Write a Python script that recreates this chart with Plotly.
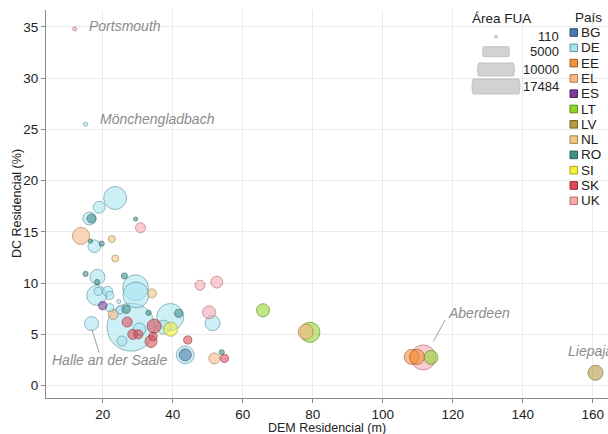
import math
import plotly.graph_objects as go

# ---------------- data ----------------
countries = ["BG", "DE", "EE", "EL", "ES", "LT", "LV", "NL", "RO", "SI", "SK", "UK"]
fill_colors = {
    "BG": "#4a78ad", "DE": "#a8e4f0", "EE": "#f58f3a", "EL": "#f9b784",
    "ES": "#7a3d9e", "LT": "#93d62a", "LV": "#b39a3e", "NL": "#ecc77c",
    "RO": "#3e8f87", "SI": "#f4f23a", "SK": "#dc4a57", "UK": "#f6a6ae",
}
line_colors = {
    "BG": "#2f4f78", "DE": "#5f9aa6", "EE": "#a85a1c", "EL": "#b07c52",
    "ES": "#4a2064", "LT": "#5c8c14", "LV": "#76652a", "NL": "#a98b4e",
    "RO": "#2a5f5a", "SI": "#a8a520", "SK": "#982c36", "UK": "#b47078",
}

fua_country = [
    "UK", "DE",
    "DE", "DE", "DE", "DE", "DE", "DE", "DE", "DE", "DE", "DE", "DE", "DE",
    "DE", "DE", "DE", "DE", "DE", "DE", "DE", "DE", "DE", "DE",
    "RO", "RO", "RO", "RO", "RO", "RO", "RO", "RO", "RO", "RO", "RO",
    "UK", "UK", "UK", "UK", "UK",
    "EL", "EL", "EL", "EL",
    "NL", "NL", "NL",
    "ES",
    "SK", "SK", "SK", "SK", "SK", "SK", "SK", "SK",
    "SI", "BG",
    "LT", "LT", "LT",
    "EE", "EE",
    "LV",
]
dem_residencial = [
    12.0, 15.1,
    23.55, 19.0, 16.2, 17.6, 18.5, 29.4, 29.5, 18.3, 18.7, 21.4, 22.0, 24.6,
    22.0, 25.0, 16.8, 28.1, 39.3, 25.5, 37.4, 43.6, 51.4, 30.5,
    16.8, 29.4, 16.5, 19.7, 15.1, 18.4, 26.2, 26.7, 33.1, 41.7, 54.0,
    30.8, 47.8, 52.6, 50.4, 111.6,
    13.8, 23.0, 51.9, 78.0,
    22.6, 23.6, 34.1,
    20.0,
    27.0, 28.6, 30.2, 34.7, 33.8, 34.4, 44.3, 54.8,
    39.4, 43.6,
    65.8, 79.2, 113.8,
    108.3, 109.8,
    160.8,
]
dc_residencial = [
    34.8, 25.5,
    18.3, 17.4, 16.3, 13.6, 10.6, 9.55, 8.85, 8.8, 9.2, 9.2, 8.8, 8.2,
    7.6, 7.4, 6.05, 5.7, 6.7, 4.35, 5.7, 3.0, 6.1, 5.5,
    16.3, 16.25, 14.1, 13.85, 10.9, 10.1, 10.7, 7.45, 7.1, 7.05, 3.25,
    15.4, 9.8, 10.1, 7.15, 2.75,
    14.6, 6.95, 2.65, 5.25,
    14.3, 12.4, 9.0,
    7.8,
    6.2, 5.0, 5.0, 5.8, 4.3, 4.8, 4.45, 2.65,
    5.5, 3.0,
    7.35, 5.2, 2.75,
    2.8, 2.8,
    1.25,
]
area_fua = [
    120, 120,
    3500, 800, 970, 900, 1350, 4600, 4600, 2600, 330, 530, 330, 120,
    330, 330, 1150, 17484, 5000, 530, 1150, 2000, 1350, 900,
    420, 120, 120, 150, 150, 150, 190, 330, 150, 330, 150,
    530, 530, 800, 970, 4300,
    1800, 530, 660, 1350,
    250, 250, 420,
    330,
    530, 530, 420, 1150, 800, 330, 330, 330,
    1150, 800,
    970, 2600, 1150,
    1350, 1350,
    1350,
]

size_breaks = [110, 5000, 10000, 17484]
city_names = ["Portsmouth", "Mönchengladbach", "Halle an der Saale", "Aberdeen", "Liepaja"]
# label text anchor (left, middle) in data units
city_label_x = [15.5, 18.7, 4.9, 118.0, 152.3]
city_label_y = [35.1, 26.0, 2.5, 7.1, 3.4]

# ---------------- geometry helpers ----------------
W, H = 608, 434
ML, MR, MT, MB = 46, 0, 10, 36
PW, PH = W - ML - MR, H - MT - MB
AMIN, AMAX = 110, 17484
DMIN, DMAX = 3.0, 48.0
FONT = "Liberation Sans, Arial, sans-serif"


def diam(a):
    return DMIN + (DMAX - DMIN) * math.sqrt(max(a - AMIN, 0) / (AMAX - AMIN))


def pxx(X):  # pixel -> paper x
    return (X - ML) / PW


def pxy(Y):  # pixel -> paper y
    return 1 - (Y - MT) / PH


def rgba(hexc, a):
    h = hexc.lstrip("#")
    return "rgba(%d,%d,%d,%.2f)" % (int(h[0:2], 16), int(h[2:4], 16), int(h[4:6], 16), a)


# draw larger bubbles first so small ones stay visible
order = sorted(range(len(area_fua)), key=lambda i: -area_fua[i])

fig = go.Figure()
fig.add_trace(go.Scatter(
    x=[dem_residencial[i] for i in order],
    y=[dc_residencial[i] for i in order],
    mode="markers",
    marker=dict(
        size=[diam(area_fua[i]) for i in order],
        sizemode="diameter",
        color=[rgba(fill_colors[fua_country[i]], 0.82) for i in order],
        line=dict(color=[line_colors[fua_country[i]] for i in order], width=1),
    ),
    text=[fua_country[i] for i in order],
    showlegend=False,
    hoverinfo="x+y+text",
))

# ---------------- city labels ----------------
label_font = dict(family=FONT, size=14, color="#8c8c8c")
for name, lx, ly in zip(city_names, city_label_x, city_label_y):
    fig.add_annotation(x=lx, y=ly, xref="x", yref="y", text="<i>%s</i>" % name,
                       showarrow=False, xanchor="left", yanchor="middle", font=label_font)

# connector segments (label -> bubble)
seg_color = "#a0a0a0"
fig.add_shape(type="line", xref="x", yref="y", x0=16.9, y0=5.5, x1=19.0, y1=3.2,
              line=dict(color=seg_color, width=1))
fig.add_shape(type="line", xref="x", yref="y", x0=114.5, y0=4.3, x1=117.8, y1=6.4,
              line=dict(color=seg_color, width=1))

# ---------------- size legend ----------------
leg_font = dict(family=FONT, size=13, color="#222222")
fig.add_annotation(x=pxx(501), y=pxy(18), xref="paper", yref="paper", text="Área FUA",
                   showarrow=False, xanchor="center", yanchor="middle",
                   font=dict(family=FONT, size=13.5, color="#222222"))
key_cy = [36.7, 51.7, 69.5, 86.5]
key_h = [6, 10, 13, 15]
cx = 496
for b, cy, hb in zip(size_breaks, key_cy, key_h):
    R = diam(b) / 2
    half = hb / 2
    if R <= half:
        fig.add_shape(type="circle", xref="paper", yref="paper",
                      x0=pxx(cx - R), x1=pxx(cx + R), y0=pxy(cy + R), y1=pxy(cy - R),
                      fillcolor="#c8c8c8", line=dict(color="#b0b0b0", width=0.5))
    else:
        t = math.asin(half / R)
        pts = []
        n = 24
        for k in range(n + 1):
            ang = -t + 2 * t * k / n
            pts.append((cx + R * math.cos(ang), cy + R * math.sin(ang)))
        for k in range(n + 1):
            ang = math.pi - t + 2 * t * k / n
            pts.append((cx + R * math.cos(ang), cy + R * math.sin(ang)))
        path = "M " + " L ".join("%.5f,%.5f" % (pxx(X), pxy(Y)) for X, Y in pts) + " Z"
        fig.add_shape(type="path", xref="paper", yref="paper", path=path,
                      fillcolor="rgba(205,205,205,0.9)", line=dict(color="#b8b8b8", width=0.8))
    fig.add_annotation(x=pxx(561), y=pxy(cy), xref="paper", yref="paper", text=f"{b}",
                       showarrow=False, xanchor="right", yanchor="middle", font=leg_font)

# ---------------- country legend ----------------
fig.add_annotation(x=pxx(573), y=pxy(17), xref="paper", yref="paper", text="País",
                   showarrow=False, xanchor="left", yanchor="middle",
                   font=dict(family=FONT, size=13.5, color="#222222"))
for k, c in enumerate(countries):
    cy = 32.5 + 15.3 * k
    fig.add_shape(type="rect", xref="paper", yref="paper",
                  x0=pxx(570), x1=pxx(577.5), y0=pxy(cy + 3.8), y1=pxy(cy - 3.8),
                  fillcolor=fill_colors[c], line=dict(color=line_colors[c], width=1))
    fig.add_annotation(x=pxx(579), y=pxy(cy), xref="paper", yref="paper", text=c,
                       showarrow=False, xanchor="left", yanchor="middle",
                       font=dict(family=FONT, size=13.5, color="#222222"))

# ---------------- axis titles ----------------
title_font = dict(family=FONT, size=12.5, color="#222222")
fig.add_annotation(x=pxx(327), y=pxy(428), xref="paper", yref="paper", text="DEM Residencial (m)",
                   showarrow=False, xanchor="center", yanchor="middle", font=title_font)
fig.add_annotation(x=pxx(17), y=pxy(204), xref="paper", yref="paper", text="DC Residencial (%)",
                   showarrow=False, xanchor="center", yanchor="middle", textangle=-90, font=title_font)

# ---------------- layout ----------------
axis_common = dict(
    showgrid=True, gridcolor="#ebebeb", gridwidth=1, zeroline=False,
    showline=True, linecolor="#8a8a8a", linewidth=1,
    ticks="outside", ticklen=4, tickcolor="#8a8a8a",
    tickfont=dict(family=FONT, size=13.5, color="#222222"),
    automargin=False,
)
fig.update_layout(
    width=W, height=H,
    margin=dict(l=ML, r=MR, t=MT, b=MB, autoexpand=False),
    paper_bgcolor="white", plot_bgcolor="white",
    xaxis=dict(range=[(ML - 32.7) / 3.5, (W - 32.7) / 3.5],
               tickvals=[20, 40, 60, 80, 100, 120, 140, 160], **axis_common),
    yaxis=dict(range=[(385.6 - (H - MB)) / 10.25, (385.6 - MT) / 10.25],
               tickvals=[0, 5, 10, 15, 20, 25, 30, 35], **axis_common),
    showlegend=False,
)

# remove the default page margin so the 608x434 figure fills the window
fig.write_html(
    "out.html",
    config={"displayModeBar": False},
    post_script="document.body.style.margin='0px';"
                "document.documentElement.style.overflow='hidden';",
)
